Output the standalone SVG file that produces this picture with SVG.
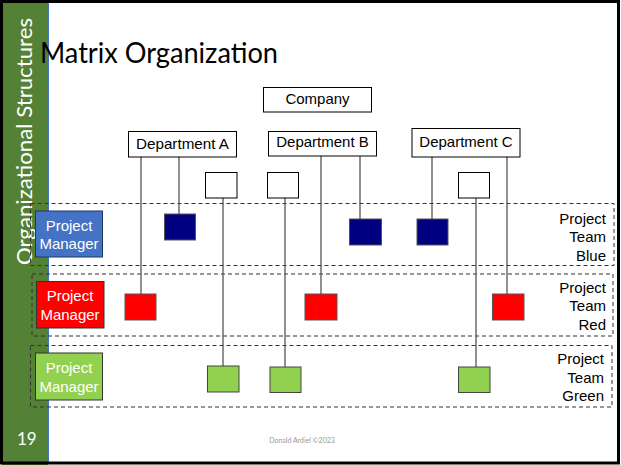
<svg xmlns="http://www.w3.org/2000/svg" width="621" height="465" viewBox="0 0 621 465">
<style>
.box{fill:#fff;stroke:#000;stroke-width:1}
.lbl{font-family:"Liberation Sans",Arial,sans-serif;font-size:15px;fill:#000}
.line{stroke:#555;stroke-width:1.3;fill:none}
.band{fill:none;stroke:#333;stroke-width:1;stroke-dasharray:4,3}
.navy{fill:#000080;stroke:#555;stroke-width:1}
.red{fill:#ff0000;stroke:#555;stroke-width:1}
.green{fill:#92d050;stroke:#444;stroke-width:1}
.pmt{font-family:"Liberation Sans",Arial,sans-serif;font-size:15px;fill:#fff;text-anchor:middle}
.team{font-family:"Liberation Sans",Arial,sans-serif;font-size:15px;fill:#000;text-anchor:end}
</style>
<rect x="0" y="0" width="621" height="465" fill="#fff"/>
<rect x="2" y="0" width="46" height="465" fill="#538135"/>
<line x1="48.5" y1="0" x2="48.5" y2="462" stroke="#4472c4" stroke-width="1"/>
<rect x="1.5" y="1.5" width="617" height="461.5" fill="none" stroke="#000" stroke-width="3"/>
<text transform="translate(32,265) rotate(-90)" font-family="Lato,'Open Sans',sans-serif" font-size="22" fill="#fff" textLength="247" lengthAdjust="spacingAndGlyphs">Organizational Structures</text>
<text x="40" y="63" font-family="Lato,'Open Sans',sans-serif" font-size="29" fill="#000" textLength="238" lengthAdjust="spacingAndGlyphs">Matrix Organization</text>
<text x="17" y="445" font-family="Lato,'Liberation Sans',sans-serif" font-size="17" fill="#fff">19</text>
<text x="302" y="443" font-family="Lato,'Liberation Sans',sans-serif" font-size="7" fill="#999" text-anchor="middle">Donald Ardiel ©2023</text>

<g id="bands">
<rect class="band" x="30.5" y="203.5" width="583.5" height="62"/>
<rect class="band" x="32" y="274" width="581" height="62"/>
<rect class="band" x="30.5" y="345.5" width="581.5" height="61.5"/>
</g>

<g id="connectors">
<line class="line" x1="141" y1="157" x2="141" y2="294"/>
<line class="line" x1="179" y1="157" x2="179" y2="214"/>
<line class="line" x1="223" y1="198" x2="223" y2="366"/>
<line class="line" x1="285" y1="198" x2="285" y2="367"/>
<line class="line" x1="321" y1="156" x2="321" y2="294"/>
<line class="line" x1="360" y1="156" x2="360" y2="219"/>
<line class="line" x1="432" y1="157" x2="432" y2="219"/>
<line class="line" x1="507" y1="157" x2="507" y2="294"/>
<line class="line" x1="476" y1="198" x2="476" y2="367"/>
</g>

<g id="company"><rect class="box" x="263.5" y="87.5" width="108" height="24.5"/><text class="lbl" x="317.5" y="104" text-anchor="middle">Company</text></g>
<g id="deptA"><rect class="box" x="128.5" y="131.5" width="108" height="25.5"/><text class="lbl" x="182.5" y="149" text-anchor="middle" textLength="93" lengthAdjust="spacingAndGlyphs">Department A</text></g>
<g id="deptB"><rect class="box" x="268.5" y="131.5" width="108" height="24.5"/><text class="lbl" x="322.5" y="147" text-anchor="middle">Department B</text></g>
<g id="deptC"><rect class="box" x="412" y="128.5" width="108" height="28.5"/><text class="lbl" x="466" y="147" text-anchor="middle">Department C</text></g>

<g id="whiteA"><rect class="box" x="205.5" y="172.5" width="31.5" height="25.5"/></g>
<g id="whiteB"><rect class="box" x="267.5" y="172.5" width="31" height="25.5"/></g>
<g id="whiteC"><rect class="box" x="458.5" y="172.5" width="31" height="25.5"/></g>

<g id="blue1"><rect class="navy" x="164.5" y="214" width="31" height="26"/></g>
<g id="blue2"><rect class="navy" x="349.5" y="219" width="32" height="26"/></g>
<g id="blue3"><rect class="navy" x="417" y="219" width="31" height="26"/></g>

<g id="red1"><rect class="red" x="125" y="294" width="31" height="26"/></g>
<g id="red2"><rect class="red" x="305" y="294" width="32" height="26"/></g>
<g id="red3"><rect class="red" x="492.5" y="294" width="31.5" height="26"/></g>

<g id="green1"><rect class="green" x="207.5" y="366" width="31.5" height="26"/></g>
<g id="green2"><rect class="green" x="270" y="367" width="31" height="25.5"/></g>
<g id="green3"><rect class="green" x="458.5" y="367" width="31.5" height="25.5"/></g>

<g id="pmBlue"><rect x="35.5" y="211" width="67" height="46" fill="#4472c4" stroke="#1f3864" stroke-width="1"/><text class="pmt" x="69" y="231">Project</text><text class="pmt" x="69" y="249">Manager</text></g>
<g id="pmRed"><rect x="36.5" y="281.5" width="67.5" height="46.5" fill="#ff0000" stroke="#333" stroke-width="1"/><text class="pmt" x="70" y="301">Project</text><text class="pmt" x="70" y="320">Manager</text></g>
<g id="pmGreen"><rect x="35.5" y="353" width="67" height="47" fill="#92d050" stroke="#333" stroke-width="1"/><text class="pmt" x="69" y="373">Project</text><text class="pmt" x="69" y="392">Manager</text></g>

<g id="teamBlue"><text class="team" x="606" y="224">Project</text><text class="team" x="606" y="242">Team</text><text class="team" x="606" y="261">Blue</text></g>
<g id="teamRed"><text class="team" x="606" y="293">Project</text><text class="team" x="606" y="311">Team</text><text class="team" x="606" y="330">Red</text></g>
<g id="teamGreen"><text class="team" x="604" y="364">Project</text><text class="team" x="604" y="383">Team</text><text class="team" x="604" y="401">Green</text></g>
</svg>
